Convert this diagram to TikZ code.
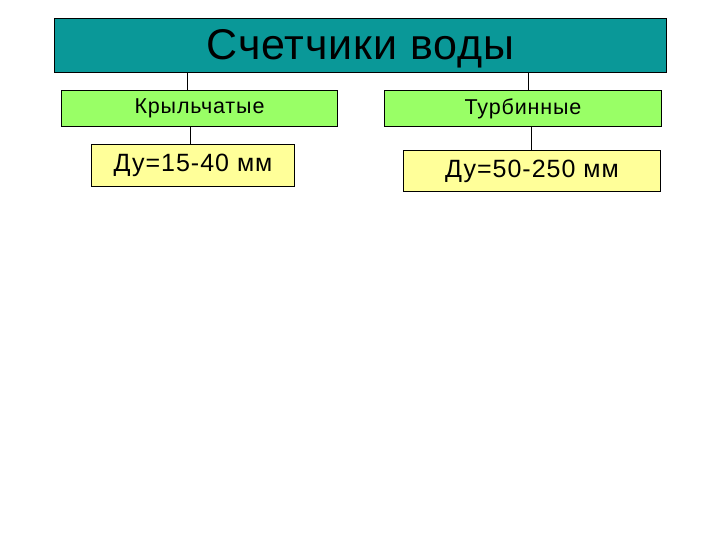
\documentclass[tikz,border=0pt]{standalone}
\usepackage{fontspec}
\setmainfont{Liberation Sans}
\definecolor{tealbox}{HTML}{0A9898}
\definecolor{greenbox}{HTML}{99FF66}
\definecolor{yellowbox}{HTML}{FFFF99}
\tikzset{
  box/.style={draw=black, line width=1pt, inner sep=0pt, anchor=north west},
  link/.style={draw=black, line width=0.8pt},
  titlefont/.style={font=\fontsize{43}{46}\selectfont\addfontfeatures{LetterSpace=2}},
  midfont/.style={font=\fontsize{21.5}{23}\selectfont\addfontfeatures{LetterSpace=4}},
  sizefont/.style={font=\fontsize{25}{27}\selectfont\addfontfeatures{LetterSpace=4}},
}
\begin{document}
\begin{tikzpicture}[x=1pt, y=-1pt]
\useasboundingbox (0,0) rectangle (720,540);
\fill[white] (0,0) rectangle (720,540);
\node[box, fill=tealbox, minimum width=612pt, minimum height=54pt] (top) at (54,18) {};
\node[titlefont] at ([yshift=-3pt]top.center) {Счетчики воды};
\node[box, fill=greenbox, minimum width=276pt, minimum height=36pt, midfont] (lg) at (61,90) {Крыльчатые};
\node[box, fill=greenbox, minimum width=277pt, minimum height=36pt, midfont] (rg) at (384,90) {Турбинные};
\node[box, fill=yellowbox, minimum width=203pt, minimum height=42pt, sizefont] (ly) at (91,144) {Ду=15-40 мм};
\node[box, fill=yellowbox, minimum width=257pt, minimum height=41pt, sizefont] (ry) at (403,150) {Ду=50-250 мм};
\coordinate (k1) at (187,0);
\coordinate (k2) at (528,0);
\coordinate (k3) at (190,0);
\coordinate (k4) at (531,0);
\draw[link] (top.south -| k1) -- (lg.north -| k1);
\draw[link] (top.south -| k2) -- (rg.north -| k2);
\draw[link] (lg.south -| k3) -- (ly.north -| k3);
\draw[link] (rg.south -| k4) -- (ry.north -| k4);
\end{tikzpicture}
\end{document}
